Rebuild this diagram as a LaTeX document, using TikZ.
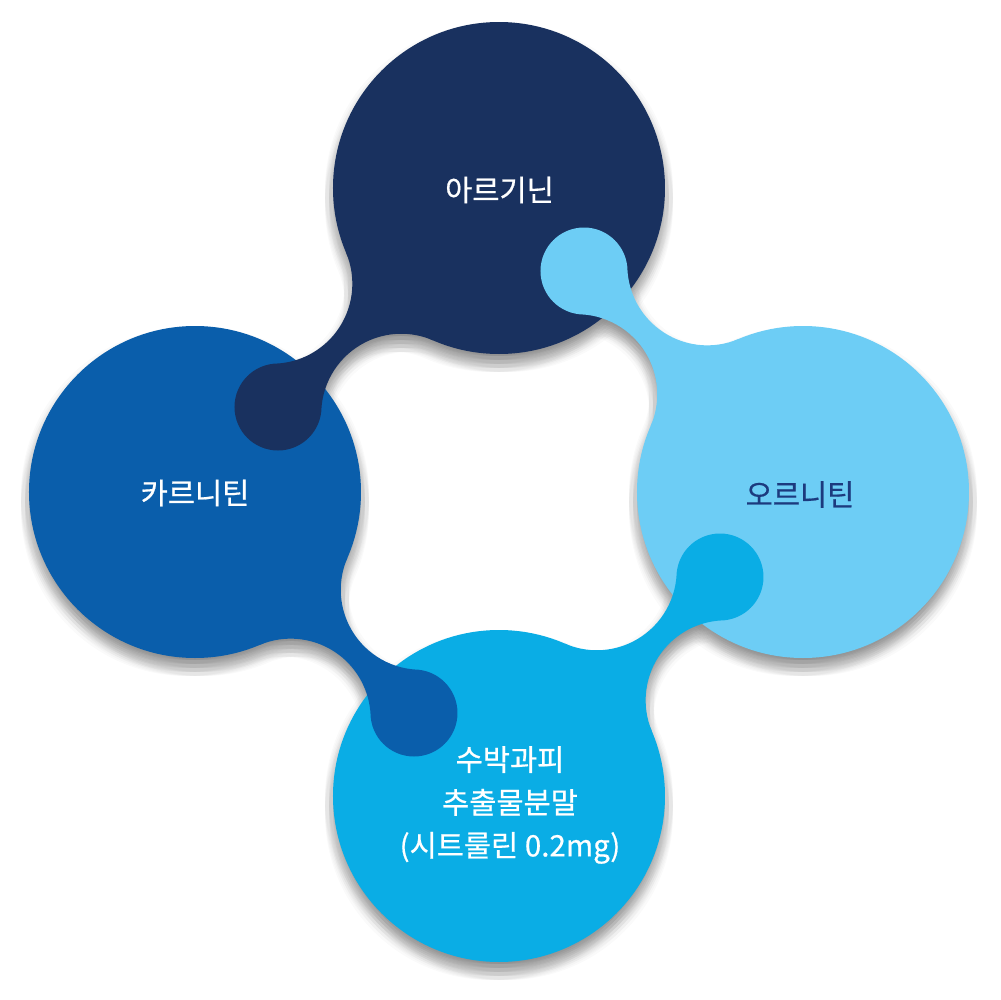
\documentclass[tikz,border=0pt]{standalone}
\usepackage{fontspec}
\newfontfamily\krfont[FakeBold=0.6]{Noto Sans CJK KR}
\definecolor{cnavy}{HTML}{19315F}
\definecolor{cblue}{HTML}{0A5EAB}
\definecolor{clight}{HTML}{6DCDF5}
\definecolor{ccyan}{HTML}{0AADE5}
\definecolor{ctext}{HTML}{1C3A7E}
% rotated point: (x,y) rotated by angle
\newcommand{\rp}[3]{({(#1)*cos(#3)-(#2)*sin(#3)},{(#1)*sin(#3)+(#2)*cos(#3)})}
% large disc of one blob
\newcommand{\bigdisc}[1]{\rp{166}{304}{#1} arc[start angle={#1}, end angle={(#1)+360}, radius=166] -- cycle}
% small disc plus neck of one blob
\newcommand{\neckdisc}[1]{\rp{-177.5}{85}{#1} arc[start angle={#1}, end angle={(#1)+360}, radius=43.5] -- cycle
 \rp{-65.95}{151.66}{#1} -- \rp{-152.94}{239.43}{#1} arc[start angle={22.89+(#1)}, end angle={-87.38+(#1)}, radius=80]
 -- \rp{-177.62}{82.63}{#1} arc[start angle={176.86+(#1)}, end angle={66.59+(#1)}, radius=80] -- cycle}
\tikzset{
  txt/.style={font=\krfont\fontsize{8.4}{12.2}\selectfont, inner sep=0pt},
}
\begin{document}
\begin{tikzpicture}[x=0.1mm, y=0.1mm]
\useasboundingbox (-499,-508) rectangle (501,492);
\fill[white] (-499,-508) rectangle (501,492);
% soft shadow
\foreach \dx in {-8,-4,0,4,8}{
  \foreach \dy in {-2,-6,-10,-14,-18}{
    \fill[black, opacity=0.019, xshift=\dx*0.1mm, yshift=\dy*0.1mm]
      \bigdisc{0} \bigdisc{-90} \bigdisc{-180} \bigdisc{-270}
      \neckdisc{0} \neckdisc{-90} \neckdisc{-180} \neckdisc{-270};
  }
}
% big discs
\fill[cnavy] \bigdisc{0};
\fill[clight] \bigdisc{-90};
\fill[ccyan] \bigdisc{-180};
\fill[cblue] \bigdisc{-270};
% necks and small discs
\fill[cnavy] \neckdisc{0};
\fill[clight] \neckdisc{-90};
\fill[ccyan] \neckdisc{-180};
\fill[cblue] \neckdisc{-270};
% labels
\node[txt, text=white] (arg) at (0.5,302) {아르기닌};
\node[txt, text=white] (car) at (-304,-1) {카르니틴};
\node[txt, text=ctext] (orn) at (301,-2.5) {오르니틴};
\node[txt, text=white, align=center] (wat) at (11,-313) {수박과피\\추출물분말\\(시트룰린 0.2mg)};
\end{tikzpicture}
\end{document}
